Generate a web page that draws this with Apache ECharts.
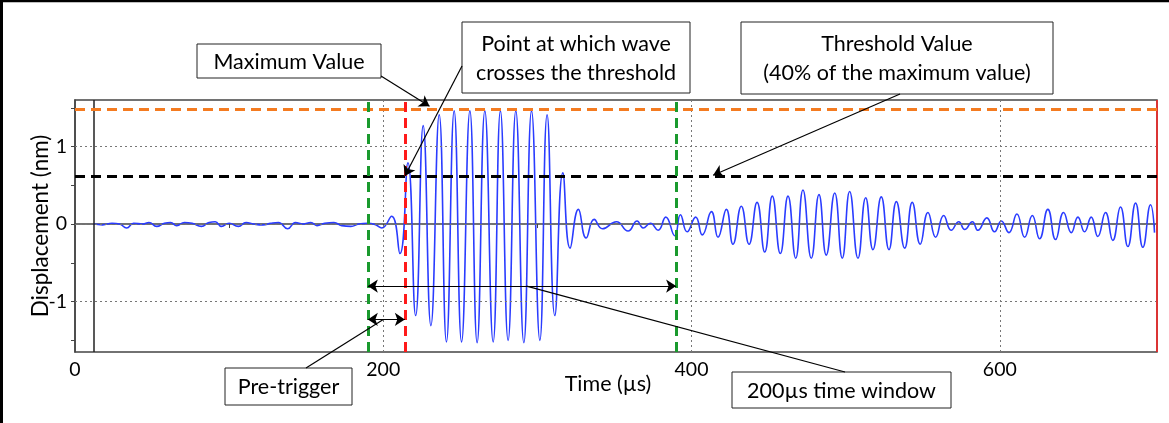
<!DOCTYPE html>
<html><head><meta charset="utf-8">
<script src="https://cdn.jsdelivr.net/npm/echarts@6/dist/echarts.min.js"></script>
<style>html,body{margin:0;padding:0;background:#fff}#c{width:1169px;height:423px}</style>
</head><body><div id="c"></div>
<script>
const timeUs = [
  12,18,24,29,33.5,38,44,48,53,58,62,66,71,76,82,87,91,95,100,106,111,116,122,127,132,138,143,148,153,157,162,168,173,179,184,190,195,199,205.4,210.8,
  216,221,225.9,230.9,236.3,241,246,250.8,256.2,260.9,265.9,271.3,276,281,286,291.2,296.2,301.6,306.3,311.3,316.5,
  321.2,326.6,331.6,336.8,342.2,351.3,358.8,364.7,368.6,373.3,378.3,383.3,389.1,392.8,397.1,402.7,407,412.9,417.2,422.6,426.9,432.3,437.3,442.5,
  447.5,452.4,457.6,462.6,467.6,472.3,477.7,482.7,487.4,492.9,497.8,502.6,508,513,517.7,523.1,528.1,532.9,538.3,543.2,548.4,553.4,558.4,563.6,568.5,573.4,
  577.2,582.2,585.8,591.6,596.6,601,605.9,611.1,616.1,621.1,625.8,631.2,636.2,641.4,646.4,650.7,655,659.3,663.6,668.6,673.3,678.3,683.1,688.1,692.8,697.8,700.4
];
const displacementNm = [
  0,-0.01,0.01,0,-0.05,0.01,0,0.02,-0.03,0.01,0.02,-0.02,0.02,0.01,-0.03,0.02,0.03,-0.03,0.01,-0.03,0.02,0,-0.01,0.01,0.02,-0.06,0.02,0,0.02,-0.02,0.01,0.02,-0.02,-0.03,0,0.01,-0.01,-0.05,0.1,-0.38,
  0.79,-1.18,1.27,-1.31,1.41,-1.52,1.46,-1.52,1.46,-1.53,1.46,-1.52,1.46,-1.50,1.46,-1.53,1.46,-1.50,1.41,-1.18,0.66,
  -0.31,0.19,-0.18,0.06,-0.06,0.03,-0.09,0.04,-0.05,0.01,-0.08,0.09,-0.15,0.12,-0.1,0.09,-0.14,0.16,-0.17,0.19,-0.26,0.23,-0.26,0.28,
  -0.36,0.36,-0.38,0.36,-0.44,0.44,-0.44,0.38,-0.40,0.40,-0.44,0.42,-0.44,0.34,-0.33,0.35,-0.33,0.29,-0.31,0.28,-0.26,0.15,-0.17,0.11,-0.08,0.03,
  -0.07,0.03,-0.08,0.08,-0.1,0.04,-0.11,0.13,-0.17,0.11,-0.19,0.19,-0.2,0.15,-0.11,0.09,-0.1,0.09,-0.16,0.15,-0.21,0.22,-0.29,0.27,-0.3,0.25,-0.11
];
const xTickValues = [0,100,200,300,400,500,600,700];
const xLabelValues = [0,200,400,600];
const yTickValues = [-1.5,-1,-0.5,0,0.5,1,1.5];
const yLabelValues = [-1,0,1];
const xGridValues = [200,400,600];
const yGridValues = [-1,0,1];
const maxValue = 1.48;
const thresholdValue = 0.62;
const signalStart = 12;
const preTriggerStart = 190;
const triggerTime = 214;
const windowEnd = 390;
const xMin = 0, xMax = 702, yMin = -1.65, yMax = 1.6;
const windowArrowY = -0.8;
const preTriggerArrowY = -1.23;
const maxArrowPoint = [230, 1.52];
const crossArrowPoint = [214, 0.62];
const thresholdArrowPoint = [414, 0.63];
const preTriggerLeaderPoint = [200, -1.23];
const windowLeaderPoint = [293, -0.8];

const xAxisTitle = 'Time (µs)';
const yAxisTitle = 'Displacement (nm)';

// ---- styling helpers ----
const FONT = 'Lato';
const measureCtx = document.createElement('canvas').getContext('2d');
function fitSize(text, targetWidth) {
  measureCtx.font = '100px ' + FONT;
  const w = measureCtx.measureText(text).width;
  return Math.round(100 * targetWidth / w * 2) / 2;
}
const tickFont = fitSize('200', 34);
const xNameFont = fitSize(xAxisTitle, 86);
const yNameFont = fitSize(yAxisTitle, 184);
const boxFont = Math.min(
  fitSize('Maximum Value', 156), fitSize('crosses the threshold', 203),
  fitSize('(40% of the maximum value)', 293), fitSize('Pre-trigger', 103),
  fitSize('200µs time window', 189)
);

const seriesData = timeUs.map((t, i) => [t, displacementNm[i]]);

function dashed(color) { return { color: color, width: 3, type: [10, 6] }; }
const gridLineStyle = { color: '#777', width: 1, type: [2, 3] };

const markLines = [];
xGridValues.forEach(v => markLines.push({ xAxis: v, lineStyle: gridLineStyle }));
yGridValues.forEach(v => markLines.push({ yAxis: v, lineStyle: gridLineStyle }));
markLines.push({ xAxis: signalStart, lineStyle: { color: '#222', width: 1.5, type: 'solid' } });
markLines.push({ xAxis: xMax, lineStyle: { color: '#ff2020', width: 1.5, type: 'solid' } });
markLines.push({ yAxis: maxValue, lineStyle: dashed('#f47b20') });
markLines.push({ yAxis: thresholdValue, lineStyle: dashed('#000') });
markLines.push({ xAxis: preTriggerStart, lineStyle: dashed('#1a9a2e') });
markLines.push({ xAxis: windowEnd, lineStyle: dashed('#1a9a2e') });
markLines.push({ xAxis: triggerTime, lineStyle: dashed('#ff1a1a') });
const arrowStyle = { color: '#000', width: 1.2, type: 'solid' };
markLines.push([{ coord: [preTriggerStart, windowArrowY], symbol: 'arrow', lineStyle: arrowStyle }, { coord: [windowEnd, windowArrowY], symbol: 'arrow' }]);
markLines.push([{ coord: [preTriggerStart, preTriggerArrowY], symbol: 'arrow', lineStyle: arrowStyle }, { coord: [triggerTime, preTriggerArrowY], symbol: 'arrow' }]);
markLines.push([{ x: 381, y: 76, symbol: 'none', lineStyle: arrowStyle }, { coord: maxArrowPoint, symbol: 'arrow' }]);
markLines.push([{ x: 462, y: 66, symbol: 'none', lineStyle: arrowStyle }, { coord: crossArrowPoint, symbol: 'arrow' }]);
markLines.push([{ x: 900, y: 94, symbol: 'none', lineStyle: arrowStyle }, { coord: thresholdArrowPoint, symbol: 'arrow' }]);
markLines.push([{ x: 306, y: 368, symbol: 'none', lineStyle: arrowStyle }, { coord: preTriggerLeaderPoint, symbol: 'none' }]);
markLines.push([{ x: 845, y: 372, symbol: 'none', lineStyle: arrowStyle }, { coord: windowLeaderPoint, symbol: 'none' }]);

function box(x, y, w, h, text, lh) {
  return { type: 'group', z: 100, children: [
    { type: 'rect', shape: { x: x, y: y, width: w, height: h }, style: { fill: '#fff', stroke: '#222', lineWidth: 1 } },
    { type: 'text', x: x + w / 2, y: y + h / 2 + 1, style: { text: text, fontFamily: FONT, fontSize: boxFont, fill: '#000', align: 'center', verticalAlign: 'middle', lineHeight: lh || 26 } }
  ]};
}

const chart = echarts.init(document.getElementById('c'), null, { renderer: 'canvas' });
chart.setOption({
  animation: false,
  backgroundColor: '#fff',
  grid: { left: 75, right: 12, top: 100, bottom: 71, show: true, borderColor: '#444', borderWidth: 1.5, backgroundColor: 'transparent' },
  xAxis: {
    type: 'value', min: xMin, max: xMax,
    name: xAxisTitle, nameLocation: 'middle', nameGap: 21, nameMoveOverlap: false,
    nameTextStyle: { fontFamily: FONT, fontSize: xNameFont, color: '#000', padding: [0, 16, 0, 0] },
    axisLine: { show: true, lineStyle: { color: '#444', width: 1.5 } },
    axisTick: { show: true, length: 4, customValues: xTickValues, lineStyle: { color: '#444' } },
    axisLabel: { customValues: xLabelValues, fontFamily: FONT, fontSize: tickFont, color: '#000', margin: 8 },
    splitLine: { show: false }
  },
  yAxis: {
    type: 'value', min: yMin, max: yMax,
    name: yAxisTitle, nameLocation: 'middle', nameGap: 23, nameMoveOverlap: false,
    nameTextStyle: { fontFamily: FONT, fontSize: yNameFont, color: '#000' },
    axisLine: { show: true, lineStyle: { color: '#444', width: 1.5 } },
    axisTick: { show: true, length: 4, customValues: yTickValues, lineStyle: { color: '#444' } },
    axisLabel: { customValues: yLabelValues, fontFamily: FONT, fontSize: tickFont, color: '#000', margin: 8 },
    splitLine: { show: false }
  },
  series: [{
    type: 'line', data: seriesData, smooth: 0.5, showSymbol: false, symbol: 'none',
    lineStyle: { color: '#2a3cff', width: 1.6 },
    z: 3,
    markLine: {
      silent: true, symbol: 'none', symbolSize: 10, label: { show: false }, z: 5,
      animation: false,
      data: markLines
    }
  }],
  graphic: [
    { type: 'line', shape: { x1: 0, y1: 1, x2: 1169, y2: 1 }, style: { stroke: '#000', lineWidth: 2.5 } },
    { type: 'line', shape: { x1: 1.5, y1: 0, x2: 1.5, y2: 423 }, style: { stroke: '#000', lineWidth: 3 } },
    box(197, 44, 184, 34, 'Maximum Value'),
    box(462, 22, 228, 71, 'Point at which wave\ncrosses the threshold', 29),
    box(741, 22, 312, 72, 'Threshold Value\n(40% of the maximum value)', 29),
    box(225, 368, 127, 37, 'Pre-trigger'),
    box(732, 372, 219, 36, '200µs time window')
  ]
});
</script>
</body></html>
